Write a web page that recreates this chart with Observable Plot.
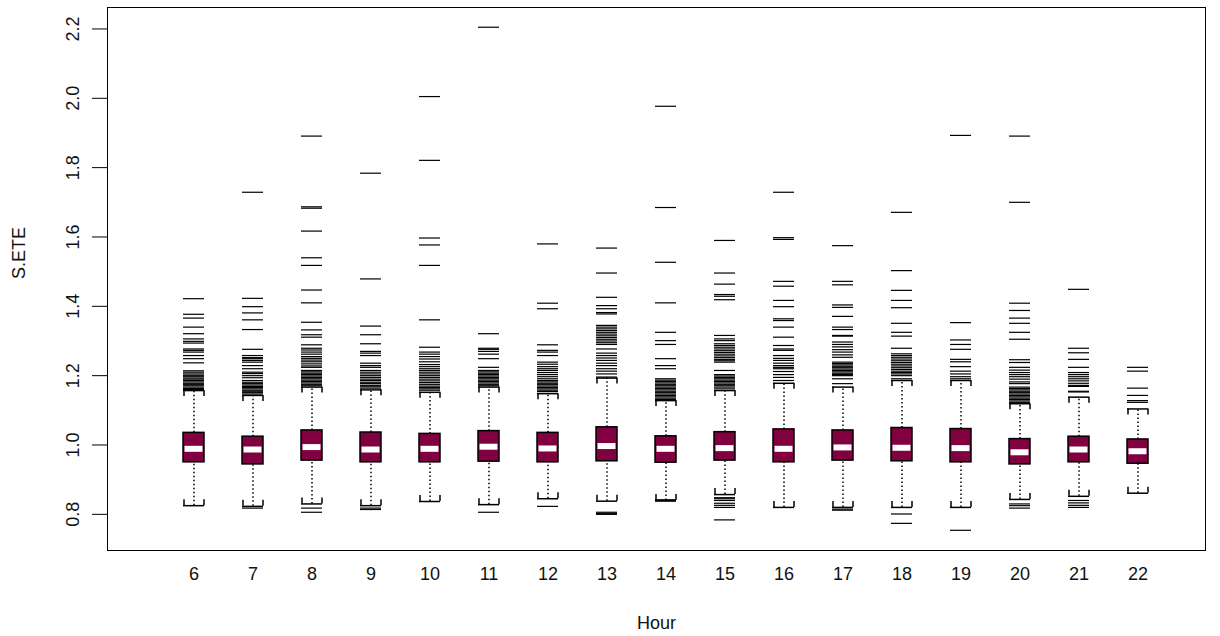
<!DOCTYPE html>
<html><head><meta charset="utf-8">
<script src="https://cdn.jsdelivr.net/npm/d3@7"></script>
<script src="https://cdn.jsdelivr.net/npm/@observablehq/plot@0.6"></script>
<style>
html,body{margin:0;padding:0;overflow:hidden;background:#fff}
#chart svg{max-width:none !important;display:block}
</style>
</head><body><div id="chart"></div>
<script>
// ---- data ----
const hours = [6,7,8,9,10,11,12,13,14,15,16,17,18,19,20,21,22];
const q1          = [0.950,0.944,0.955,0.950,0.950,0.952,0.950,0.953,0.949,0.955,0.950,0.955,0.953,0.950,0.944,0.950,0.946];
const median      = [0.989,0.987,0.994,0.987,0.989,0.995,0.990,0.997,0.989,0.991,0.989,0.993,0.992,0.991,0.979,0.987,0.982];
const q3          = [1.035,1.024,1.042,1.036,1.032,1.040,1.035,1.051,1.025,1.037,1.045,1.042,1.049,1.046,1.017,1.024,1.016];
const whiskerLow  = [0.825,0.823,0.830,0.825,0.837,0.828,0.845,0.838,0.840,0.857,0.820,0.820,0.820,0.820,0.843,0.852,0.861];
const whiskerHigh = [1.157,1.143,1.167,1.159,1.152,1.167,1.148,1.193,1.128,1.157,1.178,1.167,1.186,1.186,1.119,1.138,1.104];
const outliersHigh = [
  [1.422,1.377,1.366,1.340,1.321,1.306,1.299,1.294,1.277,1.273,1.268,1.258,1.249,1.237,1.214,1.210,1.205,1.201,1.197,1.193,1.190,1.186,1.182,1.178,1.175,1.171,1.167,1.163,1.160],
  [1.729,1.423,1.399,1.381,1.361,1.333,1.276,1.258,1.252,1.249,1.244,1.239,1.229,1.220,1.210,1.206,1.200,1.194,1.186,1.181,1.177,1.173,1.169,1.166,1.162,1.158,1.155,1.151,1.147],
  [1.891,1.687,1.683,1.617,1.540,1.518,1.447,1.410,1.354,1.332,1.318,1.311,1.289,1.279,1.274,1.268,1.262,1.255,1.250,1.245,1.240,1.234,1.228,1.224,1.215,1.211,1.207,1.203,1.199,1.195,1.191,1.187,1.183,1.179,1.175,1.171],
  [1.784,1.479,1.343,1.318,1.292,1.270,1.265,1.258,1.236,1.229,1.224,1.215,1.210,1.205,1.200,1.195,1.190,1.186,1.181,1.177,1.172,1.168,1.164],
  [2.005,1.821,1.597,1.577,1.518,1.361,1.282,1.268,1.262,1.255,1.248,1.240,1.232,1.226,1.220,1.215,1.210,1.205,1.200,1.195,1.190,1.185,1.180,1.175,1.170,1.166,1.162,1.158],
  [2.205,1.321,1.279,1.276,1.270,1.262,1.249,1.224,1.215,1.211,1.207,1.203,1.199,1.195,1.191,1.187,1.183,1.179,1.175,1.171],
  [1.580,1.409,1.393,1.289,1.273,1.268,1.258,1.239,1.233,1.226,1.220,1.215,1.209,1.203,1.197,1.191,1.186,1.182,1.178,1.174,1.170,1.166,1.162,1.158,1.154],
  [1.568,1.496,1.426,1.402,1.393,1.382,1.378,1.345,1.340,1.335,1.330,1.325,1.320,1.315,1.310,1.305,1.300,1.295,1.290,1.277,1.265,1.258,1.251,1.244,1.236,1.229,1.220,1.213,1.205,1.196],
  [1.977,1.685,1.527,1.410,1.325,1.301,1.290,1.249,1.229,1.220,1.191,1.187,1.183,1.179,1.175,1.171,1.167,1.163,1.159,1.155,1.151,1.147,1.143,1.139,1.135,1.131],
  [1.590,1.496,1.464,1.434,1.429,1.419,1.316,1.306,1.301,1.292,1.287,1.282,1.277,1.272,1.267,1.262,1.257,1.252,1.247,1.243,1.239,1.215,1.203,1.199,1.195,1.191,1.187,1.183,1.179,1.175,1.171,1.167,1.162],
  [1.729,1.598,1.593,1.472,1.458,1.417,1.399,1.364,1.359,1.340,1.311,1.287,1.277,1.273,1.258,1.250,1.244,1.236,1.229,1.224,1.220,1.212,1.203,1.195,1.186],
  [1.575,1.472,1.462,1.404,1.397,1.371,1.340,1.333,1.316,1.314,1.297,1.290,1.283,1.275,1.268,1.260,1.253,1.239,1.235,1.231,1.227,1.223,1.219,1.215,1.211,1.207,1.203,1.200,1.191,1.177],
  [1.671,1.503,1.446,1.417,1.396,1.351,1.325,1.314,1.279,1.263,1.258,1.253,1.248,1.243,1.238,1.233,1.228,1.223,1.218,1.213,1.209,1.205,1.200,1.191],
  [1.893,1.353,1.303,1.290,1.276,1.247,1.240,1.226,1.213,1.205,1.197,1.191],
  [1.891,1.700,1.409,1.388,1.366,1.351,1.325,1.305,1.246,1.238,1.224,1.216,1.209,1.203,1.197,1.190,1.182,1.177,1.167,1.163,1.159,1.155,1.151,1.147,1.143,1.139,1.135,1.131,1.127,1.123],
  [1.449,1.279,1.266,1.247,1.224,1.209,1.203,1.197,1.191,1.185,1.178,1.172,1.169,1.155,1.153],
  [1.224,1.213,1.164,1.143,1.128,1.123]
];
const outliersLow = [
  [], [0.818], [0.818,0.806], [0.818,0.814], [], [0.806], [0.823], [0.806,0.802,0.800],
  [0.842,0.838], [0.848,0.845,0.840,0.832,0.826,0.820,0.784], [], [0.815,0.812],
  [0.801,0.774], [0.754], [0.830,0.825,0.818], [0.840,0.833,0.826,0.820], []
];
const yTicks = [0.8,1.0,1.2,1.4,1.6,1.8,2.0,2.2];
const xTitle = "Hour";
const yTitle = "S.ETE";

// ---- build tables for the marks ----
const stats = hours.map((h,i)=>({hour:h, q1:q1[i], med:median[i], q3:q3[i], lo:whiskerLow[i], hi:whiskerHigh[i]}));
const outl = hours.flatMap((h,i)=>[...outliersHigh[i], ...outliersLow[i]].map(v=>({hour:h, value:v})));

const boxFill = "#800040";
const font = "'Liberation Sans', Arial, Helvetica, sans-serif";

const chart = Plot.plot({
  width: 1220, height: 636,
  marginLeft: 107, marginRight: 15, marginTop: 7, marginBottom: 86,
  style: {fontFamily: font, fontSize: "18px", background: "white", color: "black", maxWidth: "none"},
  x: {type: "band", domain: hours, paddingInner: 0.648, paddingOuter: 1.02, align: 0.5706, axis: null},
  y: {domain: [0.6957, 2.2619], axis: null},
  marks: [
    Plot.frame({stroke: "black", strokeWidth: 1}),
    Plot.axisY({ticks: yTicks, tickSize: 15, tickFormat: () => "", stroke: "black", strokeWidth: 1}),
    Plot.text(yTicks, {y: d => d, text: d => d.toFixed(1), frameAnchor: "left", dx: -34, rotate: -90, textAnchor: "middle", lineAnchor: "middle", fontSize: 18, fill: "#111"}),
    Plot.text(hours, {x: d => d, text: d => String(d), frameAnchor: "bottom", dy: 24, lineAnchor: "middle", fontSize: 18, fill: "#111"}),
    Plot.text([xTitle], {text: d => d, frameAnchor: "bottom", dy: 73, lineAnchor: "middle", fontSize: 18, fill: "#111"}),
    Plot.text([yTitle], {text: d => d, frameAnchor: "left", dx: -88, rotate: -90, lineAnchor: "middle", fontSize: 18, fill: "#111"}),
    // whiskers (dotted)
    Plot.ruleX(stats, {x: "hour", y1: "q3", y2: "hi", stroke: "black", strokeWidth: 1.5, strokeDasharray: "1.5,2.5"}),
    Plot.ruleX(stats, {x: "hour", y1: "lo", y2: "q1", stroke: "black", strokeWidth: 1.5, strokeDasharray: "1.5,2.5"}),
    // outliers
    Plot.tickY(outl, {x: "hour", y: "value", stroke: "black", strokeWidth: 1.2}),
    // staples with bracket ends
    Plot.tickY(stats, {x: "hour", y: "hi", stroke: "black", strokeWidth: 1.5}),
    Plot.tickY(stats, {x: "hour", y: "lo", stroke: "black", strokeWidth: 1.5}),
    Plot.ruleX(stats, {x: "hour", y1: "hi", y2: "hi", insetBottom: -6, dx: -10, stroke: "black", strokeWidth: 1.5}),
    Plot.ruleX(stats, {x: "hour", y1: "hi", y2: "hi", insetBottom: -6, dx: 10, stroke: "black", strokeWidth: 1.5}),
    Plot.ruleX(stats, {x: "hour", y1: "lo", y2: "lo", insetTop: -6, dx: -10, stroke: "black", strokeWidth: 1.5}),
    Plot.ruleX(stats, {x: "hour", y1: "lo", y2: "lo", insetTop: -6, dx: 10, stroke: "black", strokeWidth: 1.5}),
    // boxes
    Plot.barY(stats, {x: "hour", y1: "q1", y2: "q3", fill: boxFill, stroke: "black", strokeWidth: 1.5}),
    Plot.tickY(stats, {x: "hour", y: "med", stroke: "white", strokeWidth: 6, inset: 1.5})
  ]
});
document.getElementById("chart").appendChild(chart);
</script>
</body></html>
